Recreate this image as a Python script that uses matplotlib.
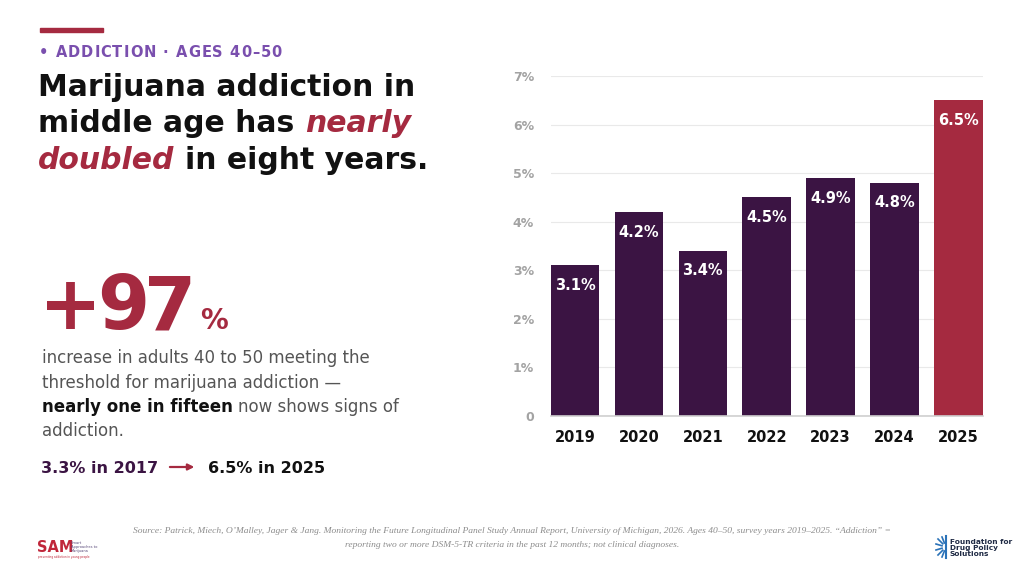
import matplotlib
matplotlib.use('Agg')
import matplotlib.pyplot as plt
from matplotlib.patches import Rectangle, FancyArrowPatch

# data
years = ['2019', '2020', '2021', '2022', '2023', '2024', '2025']
rates = [3.1, 4.2, 3.4, 4.5, 4.9, 4.8, 6.5]
y_ticks = [0, 1, 2, 3, 4, 5, 6, 7]
y_tick_labels = ['0', '1%', '2%', '3%', '4%', '5%', '6%', '7%']

PURPLE = '#3b1443'
RED = '#a52a40'
LAV = '#7a4fae'
GRAY = '#555555'

W, H = 1024, 576
fig = plt.figure(figsize=(W / 100, H / 100), dpi=100)
fig.patch.set_facecolor('white')
plt.rcParams['font.family'] = 'DejaVu Sans'


def fx(x):
    return x / W


def fy(y):
    return 1 - y / H


# bar chart
ax = fig.add_axes([550.7 / W, 160 / H, 432 / W, 340 / H])
colors = [PURPLE] * (len(years) - 1) + [RED]
ax.bar(range(len(years)), rates, width=0.76, color=colors, zorder=3)
ax.set_xlim(-0.38, len(years) - 0.62)
ax.set_ylim(0, 7)
ax.set_yticks(y_ticks)
ax.set_yticklabels(y_tick_labels, color='#a3a3a3', fontsize=9, fontweight='bold')
ax.set_xticks(range(len(years)))
ax.set_xticklabels(years, color='#111111', fontsize=10.5, fontweight='bold')
ax.yaxis.grid(True, color='#e9e9e9', lw=0.8, zorder=0)
ax.tick_params(axis='y', length=0, pad=12)
ax.tick_params(axis='x', length=0, pad=10)
for s in ['top', 'right', 'left']:
    ax.spines[s].set_visible(False)
ax.spines['bottom'].set_color('#cfcfcf')
ax.spines['bottom'].set_linewidth(1.2)
ax.spines['bottom'].set_zorder(4)

for i, v in enumerate(rates):
    ax.annotate(f'{v}%', (i, v), xytext=(0, -14.5), textcoords='offset points',
                ha='center', va='center', color='white', fontsize=10.5,
                fontweight='bold', zorder=5)

# left side text
r = fig.canvas.get_renderer()


def space_w(size, **kw):
    a = fig.text(0, 0, 'aa', fontsize=size, **kw)
    b = fig.text(0, 0, 'a a', fontsize=size, **kw)
    w = b.get_window_extent(renderer=r).width - a.get_window_extent(renderer=r).width
    a.remove()
    b.remove()
    return w


def run(x, y, s, size, **kw):
    t = fig.text(fx(x), fy(y), s, fontsize=size, va='baseline', ha='left', **kw)
    return x + t.get_window_extent(renderer=r).width


def tracked(x, y, s, size, track, **kw):
    sp = space_w(size, **kw)
    for ch in s:
        if ch == ' ':
            x += sp + track
            continue
        x = run(x, y, ch, size, **kw) + track
    return x


fig.patches.append(Rectangle((fx(40), fy(32)), 63 / W, 4 / H, transform=fig.transFigure,
                             color=RED, zorder=2))
tracked(39, 57, '\u2022 ADDICTION \u00b7 AGES 40\u201350', 10.5, 1.0,
        color=LAV, fontweight='bold')

hs = 21.5
sp = space_w(hs, fontweight='bold')
run(38, 96, 'Marijuana addiction in', hs, fontweight='bold', color='#111111')
x = run(38, 132.5, 'middle age has', hs, color='#111111', fontweight='bold')
run(x + sp, 132.5, 'nearly', hs, color=RED, fontweight='bold', style='italic')
x = run(38, 169, 'doubled', hs, color=RED, fontweight='bold', style='italic')
run(x + sp, 169, 'in eight years.', hs, color='#111111', fontweight='bold')

x = tracked(39, 329, '+97', 54, -5, color=RED, fontweight='bold')
run(x + 9, 329, '%', 20, color=RED, fontweight='bold')

ps = 12
psp = space_w(ps)
lines = [
    'increase in adults 40 to 50 meeting the',
    'threshold for marijuana addiction \u2014',
]
for k, ln in enumerate(lines):
    run(42, 363 + 24.5 * k, ln, ps, color=GRAY)
x = run(42, 412, 'nearly one in fifteen', ps, color='#111111', fontweight='bold')
run(x + psp, 412, 'now shows signs of', ps, color=GRAY)
run(42, 436.5, 'addiction.', ps, color=GRAY)

x = run(41, 473, '3.3% in 2017', 11.5, color=PURPLE, fontweight='bold')
fig.patches.append(FancyArrowPatch((fx(x + 9), fy(467)), (fx(x + 39), fy(467)),
                                   transform=fig.transFigure, arrowstyle='-|>',
                                   mutation_scale=9, color=RED, lw=1.6))
run(x + 50, 473, '6.5% in 2025', 11.5, color='#111111', fontweight='bold')

# source note
src1 = ('Source: Patrick, Miech, O\u2019Malley, Jager & Jang. Monitoring the Future Longitudinal '
        'Panel Study Annual Report, University of Michigan, 2026. Ages 40\u201350, survey years '
        '2019\u20132025. \u201cAddiction\u201d =')
src2 = 'reporting two or more DSM-5-TR criteria in the past 12 months; not clinical diagnoses.'
fig.text(0.5, fy(531), src1, fontsize=6.8, family='Liberation Serif', style='italic',
         color='#8c8c8c', ha='center', va='center')
fig.text(0.5, fy(545), src2, fontsize=6.8, family='Liberation Serif', style='italic',
         color='#8c8c8c', ha='center', va='center')

# logos
fig.text(fx(37), fy(548), 'SAM', fontsize=10.5, fontweight='bold', color='#c0263a',
         va='center')
fig.text(fx(71), fy(547), 'Smart\nApproaches to\nMarijuana', fontsize=2.6,
         color='#5a4a7a', va='center', linespacing=1.1)
fig.text(fx(38), fy(557), 'preventing addiction in young people', fontsize=2,
         color='#c0263a', va='center')

cx, cy = 946, 547
for dx, dy in [(-8, -8), (-10, -3), (-10, 3), (-8, 8), (-4, -10), (-4, 10)]:
    fig.add_artist(plt.Line2D([fx(cx + dx * 0.4), fx(cx + dx)], [fy(cy + dy * 0.4), fy(cy + dy)],
                              color='#2a72b8', lw=1.2))
fig.add_artist(plt.Line2D([fx(cx), fx(cx)], [fy(cy - 11), fy(cy + 11)], color='#2a72b8', lw=1.5))
fig.text(fx(950), fy(548), 'Foundation for\nDrug Policy\nSolutions', fontsize=5.3,
         fontweight='bold', color='#1f2a44', va='center', linespacing=1.05)

fig.savefig('out.png', dpi=100)
